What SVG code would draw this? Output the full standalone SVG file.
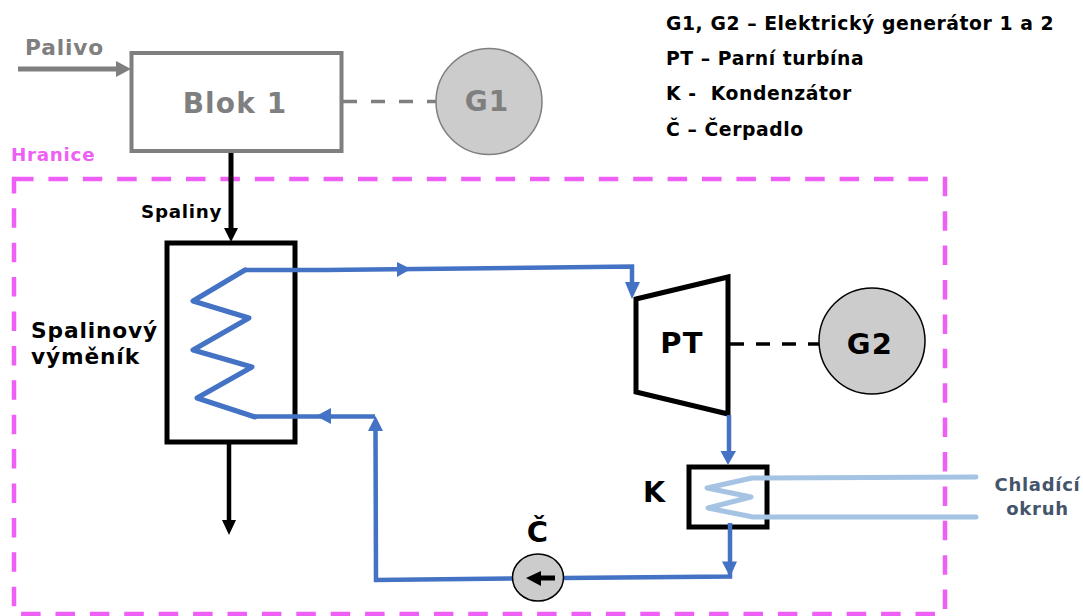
<svg xmlns="http://www.w3.org/2000/svg" width="1083" height="616" viewBox="0 0 1083 616">
<style>
text{font-family:"DejaVu Sans",Verdana,sans-serif;font-weight:700;fill:#000;letter-spacing:.04em}
.g{fill:#7f7f7f}
.c{text-anchor:middle}
.leg{font-size:18.800px;letter-spacing:.03em}
.pipe{fill:none;stroke:#4472c4;stroke-width:4.500;stroke-linejoin:miter}
.cool{fill:none;stroke:#a5c4e3;stroke-width:5;stroke-linecap:round;stroke-linejoin:round}
.coil{fill:none;stroke:#4472c4;stroke-width:5;stroke-linecap:round;stroke-linejoin:round}
.bh{fill:#4472c4}
</style>
<rect width="1083" height="616" fill="#fff"/>
<g id="boundary">
<rect x="14" y="179" width="931" height="435" fill="none" stroke="#ee5ff5" stroke-width="4.500" stroke-dasharray="19.500 14.900"/>
<text x="11" y="161" font-size="18.300" style="fill:#ee5ff5">Hranice</text>
</g>
<g id="blok1">
<rect x="131.500" y="53" width="210" height="98" fill="#fff" stroke="#7f7f7f" stroke-width="4"/>
<text class="g c" x="235" y="113" font-size="28">Blok 1</text>
</g>
<g id="g1">
<circle cx="489" cy="101.500" r="53" fill="#cdcccc" stroke="#7f7f7f" stroke-width="1.500"/>
<text class="g c" x="487" y="111" font-size="28">G1</text>
</g>
<g id="exchanger">
<rect x="167" y="243" width="128" height="199" fill="#fff" stroke="#000" stroke-width="5"/>
<text x="31" y="338" font-size="21.700">Spalinový</text>
<text x="31" y="364" font-size="21.700">výměník</text>
</g>
<g id="turbine">
<polygon points="636,299 728,277 728,414 636,392" fill="#fff" stroke="#000" stroke-width="5"/>
<text class="c" x="682" y="353" font-size="29">PT</text>
</g>
<g id="g2">
<circle cx="872" cy="341" r="53" fill="#cdcccc" stroke="#000" stroke-width="1.500"/>
<text class="c" x="870" y="354" font-size="29">G2</text>
</g>
<g id="condenser">
<rect x="689" y="467" width="78" height="60" fill="#fff" stroke="#000" stroke-width="5"/>
<text x="643" y="502" font-size="28.500">K</text>
</g>
<g id="connectors">
<path d="M18 69H120" fill="none" stroke="#7f7f7f" stroke-width="5"/>
<polygon class="g" points="131,69 116,61 116,77"/>
<path d="M343 101.500H436" fill="none" stroke="#7f7f7f" stroke-width="3.500" stroke-dasharray="14 14"/>
<path d="M231 153V230" fill="none" stroke="#000" stroke-width="5"/>
<polygon points="231,242 224,228 238,228"/>
<path d="M229 443V522" fill="none" stroke="#000" stroke-width="4.500"/>
<polygon points="229,535 222,520 236,520"/>
<path d="M730 344H819" fill="none" stroke="#000" stroke-width="3.500" stroke-dasharray="14 12"/>
<path class="coil" d="M245 270L193 301L249 318L193 350L252 367L197 398L255 417"/>
<path class="pipe" d="M245 270H325L632 266.500V285M255 416.500H375M375.500 430L376 580L513 578.500M564 578L730 576.500V562M729 415V455M730 523V563"/>
<polygon class="bh" points="411,269 397,262 397,277"/>
<polygon class="bh" points="632,299 625,282 640,282"/>
<polygon class="bh" points="316,416 331,408 331,424"/>
<polygon class="bh" points="375.500,416 368,431 383,431"/>
<polygon class="bh" points="728,465 720.500,451 736,451"/>
<polygon class="bh" points="730,577 722,561.500 737,561.500"/>
<path class="cool" d="M976 477L752 478L707 488L751 497L708 508L753 517L976 517"/>
</g>
<g id="pump">
<ellipse cx="538" cy="577.500" rx="25.500" ry="23.500" fill="#cdcccc" stroke="#000" stroke-width="1.500"/>
<path d="M538 578H555" fill="none" stroke="#000" stroke-width="5"/>
<polygon points="526,578 541,571 541,586"/>
<text class="c" x="538" y="542" font-size="29">Č</text>
</g>
<g id="labels">
<text class="g" x="25" y="55" font-size="21.700">Palivo</text>
<text x="141" y="218" font-size="18.300">Spaliny</text>
<text class="c" x="1037.500" y="491" font-size="18" style="fill:#44546a">Chladící</text>
<text class="c" x="1037.500" y="515" font-size="18" style="fill:#44546a">okruh</text>
<text class="leg" x="666" y="30">G1, G2 – Elektrický generátor 1 a 2</text>
<text class="leg" x="666" y="65">PT – Parní turbína</text>
<text class="leg" x="666" y="100" xml:space="preserve">K -  Kondenzátor</text>
<text class="leg" x="666" y="136">Č – Čerpadlo</text>
</g>
</svg>
